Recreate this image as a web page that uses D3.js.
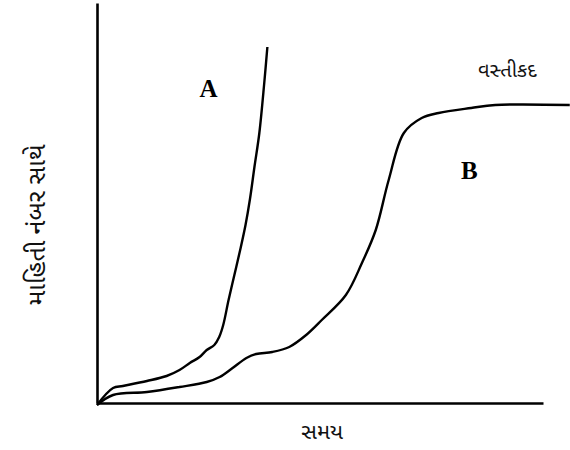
<!DOCTYPE html>
<html>
<head>
<meta charset="utf-8">
<script src="https://cdn.jsdelivr.net/npm/d3@7"></script>
<style>
  body { margin: 0; background: #fff; }
  svg { display: block; }
  .lbl { font-family: "Noto Sans Gujarati", "Noto Sans", "DejaVu Sans", sans-serif; fill: #111; }
  .big { font-family: "Liberation Serif", "DejaVu Serif", serif; font-weight: bold; fill: #000; }
</style>
</head>
<body>
<div id="chart"></div>
<script>
// datos: tiempo (x) y tamaño de la población (y)
var tiempoA = [0, 3.6, 5.8, 11.2, 15.6, 18.5, 20.8, 23.0, 24.6, 26.3, 27.4, 28.3, 29.5, 30.8, 32.1, 33.3, 34.3, 35.3, 36.4, 37.5, 38.2];
var pobA    = [-0.5, 3.75, 4.25, 5.5, 6.75, 8.25, 10, 11.5, 13.25, 14.5, 16.5, 19.5, 25.75, 32, 38.25, 44.5, 51, 59, 67.5, 80, 89];

var tiempoB = [0, 3.6, 11.2, 18.5, 24.6, 27.5, 30.4, 33.5, 35.7, 39.3, 43.1, 46.9, 50.4, 55.8, 59.4, 62.5, 65.4, 68.8, 72.8, 76.6, 83.9, 89.3, 106];
var pobB    = [-0.5, 2, 2.75, 4, 5.25, 6.5, 8.75, 11.25, 12.25, 12.75, 14, 17, 20.75, 27, 35, 43.25, 55.75, 67.5, 71.25, 72.5, 73.75, 74.5, 74.5];

var curvas = ["A", "B"];
var etiquetaX = "સમય";
var etiquetaY = "માહિતી નંબર સાથે";
var etiquetaK = "વસ્તીકદ";

var width = 570, height = 450;
var margin = {top: 3, right: 27, bottom: 47, left: 97};

// escalas
var eX = d3.scaleLinear().domain([0, 100]).range([margin.left, width - margin.right]);
var eY = d3.scaleLinear().domain([0, 100]).range([height - margin.bottom, margin.top]);

var svg = d3.select("#chart")
  .append("svg")
  .attr("width", width)
  .attr("height", height);

// ejes sin marcas
var xAxis = d3.axisBottom(eX).ticks(0).tickSizeOuter(0);
var yAxis = d3.axisLeft(eY).ticks(0).tickSizeOuter(0);

svg.append("g")
  .attr("class", "x axis")
  .attr("transform", "translate(0," + eY(0) + ")")
  .call(xAxis);
svg.append("g")
  .attr("class", "y axis")
  .attr("transform", "translate(" + eX(0) + ",0)")
  .call(yAxis);

svg.selectAll(".axis path")
  .attr("stroke", "#000")
  .attr("stroke-width", 2.6);

// curvas
var linea = d3.line()
  .x(function(d){ return eX(d[0]); })
  .y(function(d){ return eY(d[1]); })
  .curve(d3.curveCatmullRom);

var series = [d3.zip(tiempoA, pobA), d3.zip(tiempoB, pobB)];

svg.selectAll(".curva")
  .data(series)
  .enter().append("path")
  .attr("class", "curva")
  .attr("d", linea)
  .attr("fill", "none")
  .attr("stroke", "#000")
  .attr("stroke-width", 2.4)
  .attr("stroke-linejoin", "round");

// letras A y B
var posLetra = [[25, 76.5], [83.5, 56]];
svg.selectAll(".big")
  .data(curvas)
  .enter().append("text")
  .attr("class", "big")
  .attr("x", function(d, i){ return eX(posLetra[i][0]); })
  .attr("y", function(d, i){ return eY(posLetra[i][1]); })
  .attr("text-anchor", "middle")
  .attr("font-size", 25)
  .text(function(d){ return d; });

// textos
svg.append("text")
  .attr("class", "lbl")
  .attr("x", eX(50.5))
  .attr("y", height - 11)
  .attr("text-anchor", "middle")
  .attr("font-size", 22)
  .text(etiquetaX);

svg.append("text")
  .attr("class", "lbl")
  .attr("transform", "translate(45," + eY(44.5) + ") rotate(-90)")
  .attr("text-anchor", "middle")
  .attr("font-size", 25)
  .text(etiquetaY);

svg.append("text")
  .attr("class", "lbl")
  .attr("x", eX(92))
  .attr("y", eY(81.5))
  .attr("text-anchor", "middle")
  .attr("font-size", 20)
  .text(etiquetaK);
</script>
</body>
</html>
